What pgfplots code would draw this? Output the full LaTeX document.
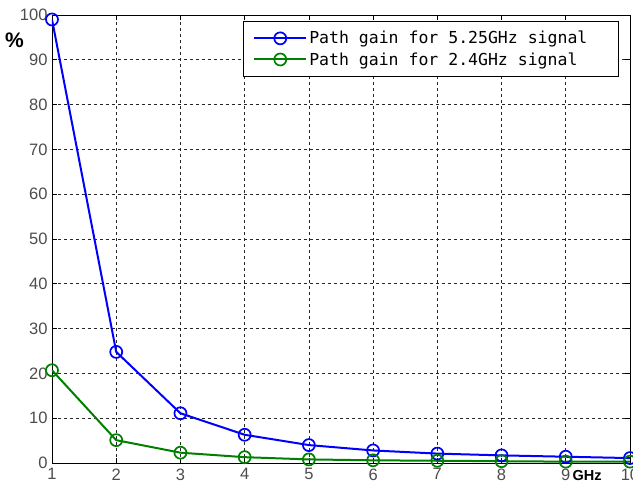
\documentclass[border=0pt]{standalone}
\usepackage{pgfplots}
\pgfplotsset{compat=1.18}
\usepackage{fontspec}
\setmainfont{Liberation Sans}
\newfontfamily\legfont{DejaVu Sans Mono}
\definecolor{mblue}{RGB}{0,0,255}
\definecolor{mgreen}{RGB}{0,128,0}
\begin{document}
\begin{tikzpicture}[x=1pt,y=1pt]
\useasboundingbox (-52,-25) rectangle (581,463);
\begin{axis}[at={(0pt,0pt)}, anchor=south west, scale only axis,
  width=578pt, height=448pt,
  xmin=1, xmax=10, ymin=0, ymax=100,
  xtick={1,...,10}, ytick={0,10,...,100},
  grid=major,
  major grid style={black!85, dash pattern=on 3pt off 3pt, line width=0.6pt},
  tick align=inside, tick pos=both, major tick length=5pt,
  tick style={black, line width=0.6pt},
  axis line style={black, line width=0.8pt},
  tick label style={font=\fontsize{16.5}{18}\selectfont, text=black!70},
  /pgf/number format/assume math mode=true,
  xticklabel style={yshift=-2pt},
  yticklabel style={xshift=-1pt},
  xlabel={GHz}, ylabel={\%},
  every axis x label/.style={at={(rel axis cs:0.926,-0.027)}, anchor=center, font=\fontsize{14.5}{16}\selectfont\bfseries},
  every axis y label/.style={at={(rel axis cs:-0.065,0.944)}, anchor=center, font=\fontsize{21}{23}\selectfont\bfseries},
  legend style={at={(0.3304,0.9866)}, anchor=north west, draw=black, line width=0.6pt,
    font=\fontsize{16.5}{19}\selectfont\legfont, fill=white, inner xsep=10pt, inner ysep=8pt,
    row sep=3pt, cells={anchor=west}},
  legend image code/.code={\draw[#1, mark repeat=2, mark phase=2] plot coordinates {(0pt,0pt) (26pt,0pt) (52pt,0pt)};},
  mark size=6pt,
]
\addplot[mblue, line width=2pt, mark=o, mark options={line width=1.7pt}] coordinates {
 (1,99) (2,24.8) (3,11.1) (4,6.3) (5,4.0) (6,2.8) (7,2.1) (8,1.7) (9,1.4) (10,1.1)};
\addlegendentry{Path gain for 5.25GHz signal\rule{19pt}{0pt}}
\addplot[mgreen, line width=2pt, mark=o, mark options={line width=1.7pt}] coordinates {
 (1,20.7) (2,5.1) (3,2.3) (4,1.3) (5,0.8) (6,0.6) (7,0.5) (8,0.4) (9,0.3) (10,0.3)};
\addlegendentry{Path gain for 2.4GHz signal}
\end{axis}
\end{tikzpicture}
\end{document}
